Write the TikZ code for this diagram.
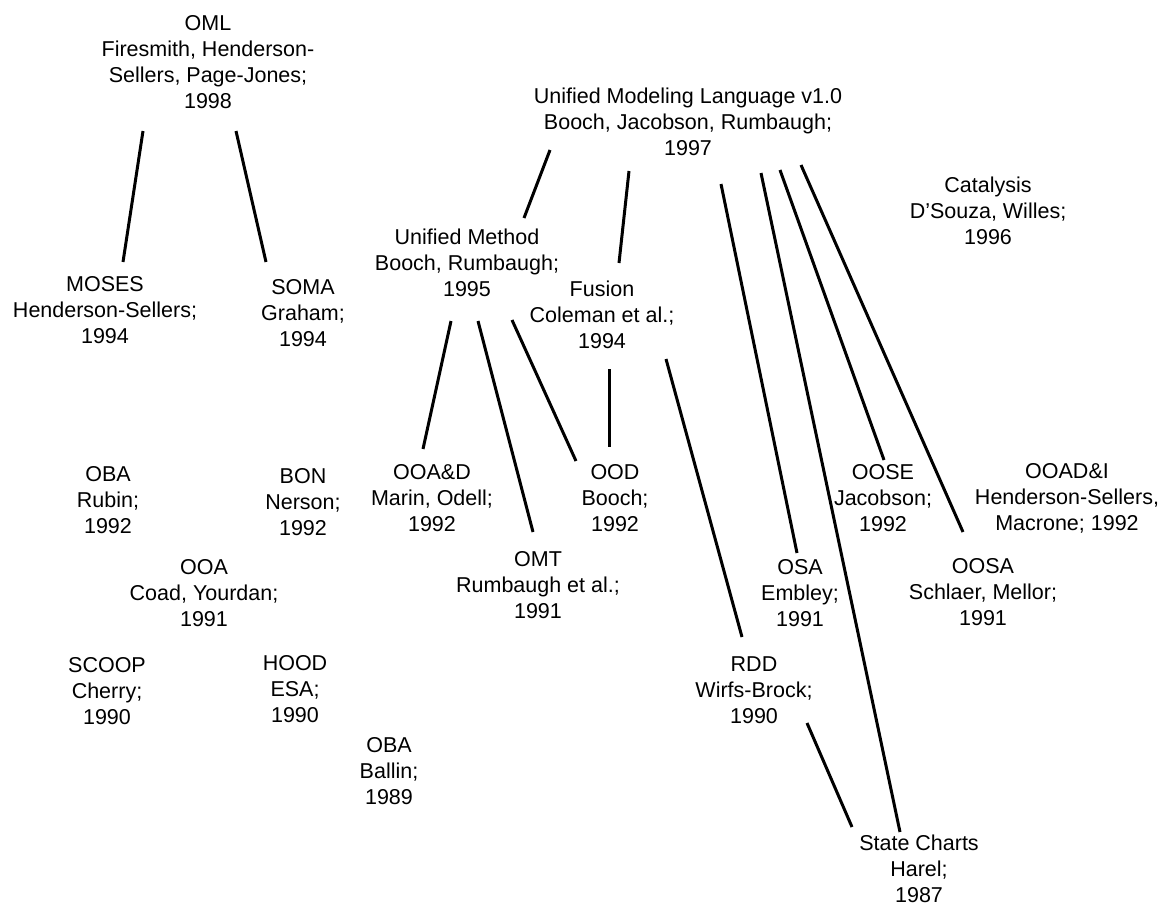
\documentclass[tikz,border=0pt]{standalone}
\usepackage{fontspec}
\setmainfont{Liberation Sans}
\begin{document}
\begin{tikzpicture}[x=1pt,y=-1pt,
  meth/.style={align=center,inner sep=0pt,font=\fontsize{21.5}{26}\selectfont},
  link/.style={line width=3pt}]
\useasboundingbox (0,0) rectangle (1167,905);
% nodes
\node[meth] (oml) at (208,62) {OML\\Firesmith, Henderson-\\Sellers, Page-Jones;\\1998};
\node[meth] (uml) at (688,122) {Unified Modeling Language v1.0\\Booch, Jacobson, Rumbaugh;\\1997};
\node[meth] (cat) at (988,211) {Catalysis\\D’Souza, Willes;\\1996};
\node[meth] (moses) at (105,310) {MOSES\\Henderson-Sellers;\\1994};
\node[meth] (soma) at (303,313) {SOMA\\Graham;\\1994};
\node[meth] (um) at (467,263) {Unified Method\\Booch, Rumbaugh;\\1995};
\node[meth] (fusion) at (602,315) {Fusion\\Coleman et al.;\\1994};
\node[meth] (obar) at (108,500) {OBA\\Rubin;\\1992};
\node[meth] (bon) at (303,502) {BON\\Nerson;\\1992};
\node[meth] (ooad) at (432,498) {OOA\&D\\Marin, Odell;\\1992};
\node[meth] (ood) at (615,498) {OOD\\Booch;\\1992};
\node[meth] (oose) at (883,498) {OOSE\\Jacobson;\\1992};
\node[meth] (ooadi) at (1067,498) {OOAD\&I\\Henderson-Sellers,\\Macrone; 1992};
\node[meth] (ooa) at (204,593) {OOA\\Coad, Yourdan;\\1991};
\node[meth] (omt) at (538,585) {OMT\\Rumbaugh et al.;\\1991};
\node[meth] (osa) at (800,593) {OSA\\Embley;\\1991};
\node[meth] (oosa) at (983,592) {OOSA\\Schlaer, Mellor;\\1991};
\node[meth] (scoop) at (107,691) {SCOOP\\Cherry;\\1990};
\node[meth] (hood) at (295,689) {HOOD\\ESA;\\1990};
\node[meth] (rdd) at (754,690) {RDD\\Wirfs-Brock;\\1990};
\node[meth] (obab) at (389,771) {OBA\\Ballin;\\1989};
\node[meth] (sc) at (919,869) {State Charts\\Harel;\\1987};
% connector end points
\coordinate (oml-moses-a) at (143,131); \coordinate (oml-moses-b) at (123,262);
\coordinate (oml-soma-a) at (236,131);  \coordinate (oml-soma-b) at (266,262);
\coordinate (uml-um-a) at (550,150);    \coordinate (uml-um-b) at (524,218);
\coordinate (uml-fus-a) at (629,171);   \coordinate (uml-fus-b) at (619,263);
\coordinate (uml-osa-a) at (721,184);   \coordinate (uml-osa-b) at (797,553);
\coordinate (uml-sc-a) at (761,173);    \coordinate (uml-sc-b) at (900,832);
\coordinate (uml-oose-a) at (780,170);  \coordinate (uml-oose-b) at (884,460);
\coordinate (uml-oosa-a) at (801,165);  \coordinate (uml-oosa-b) at (963,532);
\coordinate (um-ooad-a) at (451,321);   \coordinate (um-ooad-b) at (423,449);
\coordinate (um-omt-a) at (478,321);    \coordinate (um-omt-b) at (533,532);
\coordinate (um-ood-a) at (512,320);    \coordinate (um-ood-b) at (576,461);
\coordinate (fus-ood-a) at (609,369);   \coordinate (fus-ood-b) at (609,447);
\coordinate (fus-rdd-a) at (666,359);   \coordinate (fus-rdd-b) at (742,637);
\coordinate (rdd-sc-a) at (807,723);    \coordinate (rdd-sc-b) at (852,827);
% connectors
\draw[link] (oml-moses-a) -- (oml-moses-b);
\draw[link] (oml-soma-a) -- (oml-soma-b);
\draw[link] (uml-um-a) -- (uml-um-b);
\draw[link] (uml-fus-a) -- (uml-fus-b);
\draw[link] (uml-osa-a) -- (uml-osa-b);
\draw[link] (uml-sc-a) -- (uml-sc-b);
\draw[link] (uml-oose-a) -- (uml-oose-b);
\draw[link] (uml-oosa-a) -- (uml-oosa-b);
\draw[link] (um-ooad-a) -- (um-ooad-b);
\draw[link] (um-omt-a) -- (um-omt-b);
\draw[link] (um-ood-a) -- (um-ood-b);
\draw[link] (fus-ood-a) -- (fus-ood-b);
\draw[link] (fus-rdd-a) -- (fus-rdd-b);
\draw[link] (rdd-sc-a) -- (rdd-sc-b);
\end{tikzpicture}
\end{document}
